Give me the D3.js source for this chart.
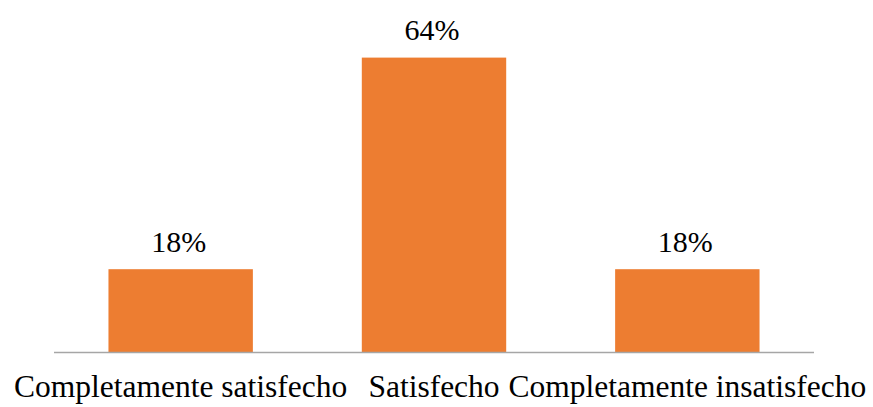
<!DOCTYPE html>
<html>
<head>
<meta charset="utf-8">
<script src="https://cdn.jsdelivr.net/npm/d3@7"></script>
<style>
  html, body { margin: 0; padding: 0; background: #fff; }
  svg { display: block; }
</style>
</head>
<body>
<svg id="chart" width="873" height="407"></svg>
<script>
// Satisfaction survey results
const categories = ["Completamente satisfecho", "Satisfecho", "Completamente insatisfecho"];
const values = [0.18, 0.64, 0.18];
const valueLabels = ["18%", "64%", "18%"];

const W = 873, H = 407;
const FONT = "'Liberation Serif', 'Times New Roman', Times, serif";
const svg = d3.select("#chart");

const x = d3.scaleBand()
  .domain(categories)
  .range([54, 814])
  .paddingInner(0.43)
  .paddingOuter(0.215);

const y = d3.scaleLinear()
  .domain([0, 0.7])
  .range([352, 30]);

// bars
svg.append("g")
  .selectAll("rect")
  .data(values)
  .join("rect")
  .attr("x", (d, i) => x(categories[i]))
  .attr("y", d => y(d))
  .attr("width", x.bandwidth())
  .attr("height", d => y(0) - y(d))
  .attr("fill", "#ED7D31");

// value labels above bars
svg.append("g")
  .selectAll("text")
  .data(values)
  .join("text")
  .attr("x", (d, i) => x(categories[i]) + x.bandwidth() / 2 - 2)
  .attr("y", d => y(d) - 17.5)
  .attr("text-anchor", "middle")
  .style("font-family", FONT)
  .style("font-size", "30px")
  .style("fill", "#000")
  .text((d, i) => valueLabels[i]);

// category axis
const axis = svg.append("g")
  .attr("transform", `translate(0,${y(0)})`)
  .call(d3.axisBottom(x).tickSize(0).tickPadding(0))
  .attr("font-family", FONT)
  .attr("font-size", 31.5);
axis.select(".domain")
  .attr("d", `M${x.range()[0]},0.5H${x.range()[1]}`)
  .attr("stroke", "#A6A6A6")
  .attr("stroke-width", 1.5);
axis.selectAll(".tick text")
  .attr("y", 45)
  .attr("dy", 0)
  .style("font-family", FONT)
  .style("font-size", "31.5px")
  .style("fill", "#000");

// keep the last label inside the canvas
axis.selectAll(".tick").each(function () {
  const t = d3.select(this).select("text");
  const bb = t.node().getBBox();
  const m = d3.select(this).attr("transform").match(/translate\(([^,]+)/);
  const cx = +m[1];
  const right = cx + bb.x + bb.width;
  if (right > W - 6) t.attr("x", (W - 6) - right);
});
</script>
</body>
</html>
